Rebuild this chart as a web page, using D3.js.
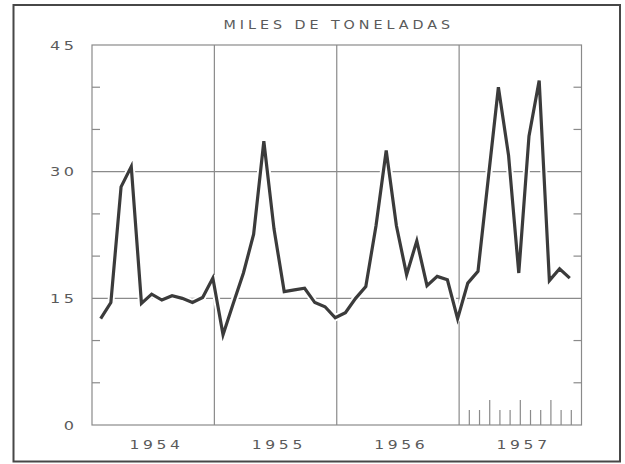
<!DOCTYPE html>
<html>
<head>
<meta charset="utf-8">
<script src="https://cdn.jsdelivr.net/npm/d3@7"></script>
<style>
  body { margin: 0; background: #fff; }
  svg { display: block; }
  text { font-family: "DejaVu Sans", sans-serif; fill: #5a5a5a; }
</style>
</head>
<body>
<main></main>
<script>
// monthly values, thousands of tonnes
const years = ['1954', '1955', '1956', '1957'];
const v1954 = [12.6, 14.5, 28.2, 30.6, 14.4, 15.5, 14.8, 15.3, 15.0, 14.5, 15.1, 17.4];
const v1955 = [10.7, 14.4, 18.0, 22.6, 33.6, 23.2, 15.8, 16.0, 16.2, 14.5, 14.0, 12.7];
const v1956 = [13.3, 15.0, 16.4, 23.6, 32.5, 23.6, 17.8, 21.8, 16.5, 17.6, 17.2, 12.6];
const v1957 = [16.8, 18.2, 29.1, 40.0, 31.9, 18.0, 34.2, 40.8, 17.1, 18.5, 17.4];
const gridValues = [15, 30];
const minorTicks = [5, 10, 20, 25, 35, 40];
const yLabels = [0, 15, 30, 45];
const title = 'MILES DE TONELADAS';

const width = 625;
const height = 464;
const margin = {top: 45, right: 43.5, bottom: 39, left: 92};

const series = [].concat(v1954, v1955, v1956, v1957);

const svg = d3.select('main')
              .append('svg')
              .attr('width', width)
              .attr('height', height);

// outer border of the page
svg.append('rect')
   .attr('x', 13.5)
   .attr('y', 5)
   .attr('width', 606.5)
   .attr('height', 456.5)
   .style('fill', 'none')
   .style('stroke', '#474747')
   .style('stroke-width', 2);

const x = d3.scaleLinear()
            .domain([0, years.length * 12])
            .range([margin.left, width - margin.right]);
const y = d3.scaleLinear()
            .domain([0, 45])
            .range([height - margin.bottom, margin.top]);

const grid = svg.append('g')
                .style('stroke', '#8a8a8a')
                .style('stroke-width', 1.2)
                .style('fill', 'none');

// frame
grid.append('rect')
    .attr('x', x(0))
    .attr('y', y(45))
    .attr('width', x(48) - x(0))
    .attr('height', y(0) - y(45));

// horizontal grid at 15 and 30
grid.selectAll('.hgrid')
    .data(gridValues)
    .enter()
    .append('line')
    .attr('x1', x(0))
    .attr('x2', x(48))
    .attr('y1', d => y(d))
    .attr('y2', d => y(d));

// year dividers
grid.selectAll('.vgrid')
    .data([12, 24, 36])
    .enter()
    .append('line')
    .attr('x1', d => x(d))
    .attr('x2', d => x(d))
    .attr('y1', y(45))
    .attr('y2', y(0));

// short ticks on both sides
minorTicks.forEach(v => {
  grid.append('line')
      .attr('x1', x(0)).attr('x2', x(0) + 8)
      .attr('y1', y(v)).attr('y2', y(v));
  grid.append('line')
      .attr('x1', x(48) - 8).attr('x2', x(48))
      .attr('y1', y(v)).attr('y2', y(v));
});

// month ticks along the bottom of 1957
d3.range(37, 48).forEach(m => {
  const len = (m % 3 === 0) ? 25 : 15;
  grid.append('line')
      .attr('x1', x(m)).attr('x2', x(m))
      .attr('y1', y(0)).attr('y2', y(0) - len);
});

// data line, with a white halo so grid lines break where it crosses
const line = d3.line()
               .x((d, i) => x(i + 0.85))
               .y(d => y(d));

svg.append('path')
   .datum(series)
   .attr('d', line)
   .style('fill', 'none')
   .style('stroke', '#fff')
   .style('stroke-width', 7)
   .style('stroke-linejoin', 'round');

svg.append('path')
   .datum(series)
   .attr('d', line)
   .style('fill', 'none')
   .style('stroke', '#3b3b3b')
   .style('stroke-width', 3.2)
   .style('stroke-linejoin', 'miter')
   .style('stroke-miterlimit', 6);

// y labels (wide lettering)
svg.selectAll('.ylab')
   .data(yLabels)
   .enter()
   .append('text')
   .attr('transform', d => `translate(74, ${y(d) + 4.5}) scale(1.4, 1)`)
   .attr('text-anchor', 'end')
   .style('font-size', '11.5px')
   .style('letter-spacing', '2.5px')
   .attr('dx', 2.5)
   .text(d => d);

// year labels
svg.selectAll('.xlab')
   .data(years)
   .enter()
   .append('text')
   .attr('transform', (d, i) => `translate(${x(i * 12 + 6) + 1.5}, ${y(0) + 24}) scale(1.2, 1)`)
   .attr('text-anchor', 'middle')
   .style('font-size', '13px')
   .style('letter-spacing', '3px')
   .attr('dx', 1.5)
   .text(d => d);

// title
svg.append('text')
   .attr('transform', `translate(${(x(0) + x(48)) / 2}, 29) scale(1.1, 1)`)
   .attr('text-anchor', 'middle')
   .style('font-size', '13px')
   .style('letter-spacing', '3.6px')
   .attr('dx', 1.8)
   .text(title);
</script>
</body>
</html>
